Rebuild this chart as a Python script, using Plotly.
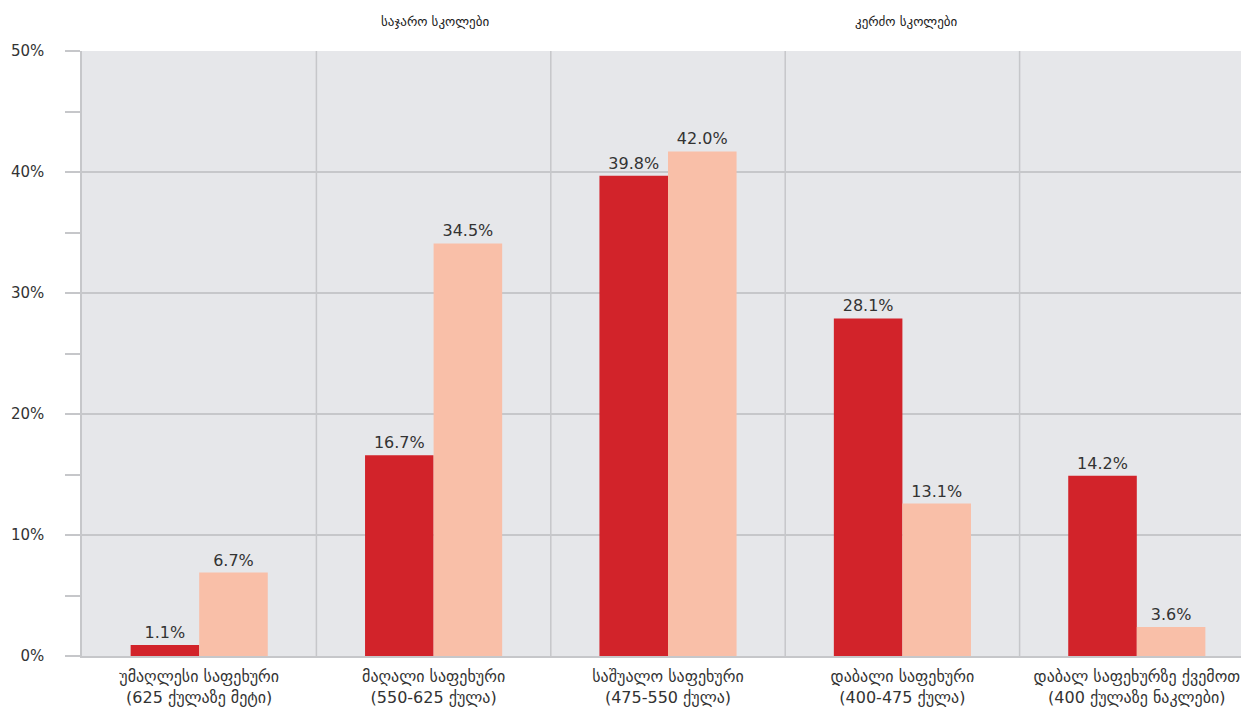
import plotly.graph_objects as go

categories = [
    "უმაღლესი საფეხური<br>(625 ქულაზე მეტი)",
    "მაღალი საფეხური<br>(550-625 ქულა)",
    "საშუალო საფეხური<br>(475-550 ქულა)",
    "დაბალი საფეხური<br>(400-475 ქულა)",
    "დაბალ საფეხურზე ქვემოთ<br>(400 ქულაზე ნაკლები)",
]
series_names = ["საჯარო სკოლები", "კერძო სკოლები"]
public_values = [0.9, 16.6, 39.7, 27.9, 14.9]
public_labels = ["1.1%", "16.7%", "39.8%", "28.1%", "14.2%"]
private_values = [6.9, 34.1, 41.7, 12.6, 2.4]
private_labels = ["6.7%", "34.5%", "42.0%", "13.1%", "3.6%"]
y_ticks = [0, 10, 20, 30, 40, 50]
y_tick_labels = ["0%", "10%", "20%", "30%", "40%", "50%"]

FONT = "DejaVu Sans"
GRID = "#c6c7ca"

fig = go.Figure()
fig.add_trace(go.Bar(x=categories, y=public_values, name=series_names[0],
                     marker=dict(color="#d2232a", line=dict(width=0)),
                     text=public_labels, textposition="outside",
                     textfont=dict(size=16, color="#333333", family=FONT),
                     cliponaxis=False, hoverinfo="skip"))
fig.add_trace(go.Bar(x=categories, y=private_values, name=series_names[1],
                     marker=dict(color="#f9bfa8", line=dict(width=0)),
                     text=private_labels, textposition="outside",
                     textfont=dict(size=16, color="#333333", family=FONT),
                     cliponaxis=False, hoverinfo="skip"))

shapes = []
for i in range(1, len(categories)):
    shapes.append(dict(type="line", xref="x", yref="paper", x0=i - 0.5, x1=i - 0.5,
                       y0=0, y1=1, line=dict(color=GRID, width=1.5), layer="below"))

fig.update_layout(
    width=1246, height=699,
    margin=dict(l=74, r=0, t=43, b=51),
    paper_bgcolor="white", plot_bgcolor="#e6e7ea",
    barmode="group", bargap=0.415, bargroupgap=0,
    showlegend=False,
    font=dict(family=FONT, size=16, color="#333333"),
    shapes=shapes,
    annotations=[
        dict(text=series_names[0], xref="paper", yref="paper", x=0.3016, y=1,
             xanchor="center", yanchor="middle", yshift=30, showarrow=False,
             font=dict(size=13, color="#222222")),
        dict(text=series_names[1], xref="paper", yref="paper", x=0.7035, y=1,
             xanchor="center", yanchor="middle", yshift=30, showarrow=False,
             font=dict(size=13, color="#222222")),
    ],
)
fig.update_xaxes(showgrid=False, showline=True, linecolor=GRID, linewidth=1.5,
                 ticks="", ticklabelstandoff=5,
                 tickfont=dict(size=16, color="#333333"), fixedrange=True)
fig.update_yaxes(range=[0, 50], tickvals=y_ticks, ticktext=y_tick_labels,
                 showgrid=True, gridcolor=GRID, gridwidth=1.5,
                 zeroline=False, showline=True, linecolor=GRID, linewidth=1.5,
                 ticks="outside", ticklen=15, tickcolor=GRID, tickwidth=1.5,
                 ticklabelstandoff=18,
                 minor=dict(dtick=5, ticks="outside", ticklen=15, tickcolor=GRID,
                            tickwidth=1.5, showgrid=False),
                 tickfont=dict(size=15, color="#333333"))

fig.write_html("out.html")
